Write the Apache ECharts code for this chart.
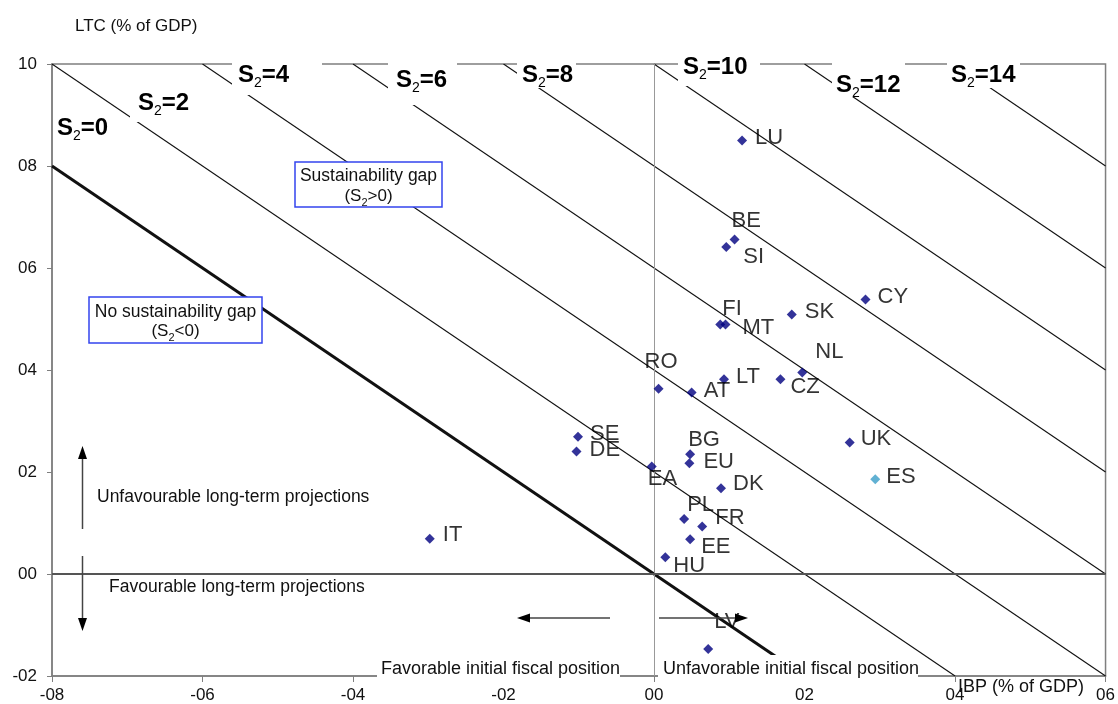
<!DOCTYPE html>
<html>
<head>
<meta charset="utf-8">
<script src="https://cdn.jsdelivr.net/npm/echarts@6/dist/echarts.min.js"></script>
<style>
html, body { margin: 0; padding: 0; background: #fff; }
#container { width: 1118px; height: 704px; }
</style>
</head>
<body>
<div id="container"></div>
<script>
// country data: IBP (x) and LTC (y), % of GDP
var countries = ['LU','BE','SI','CY','SK','FI','MT','NL','LT','CZ','RO','AT','SE','DE','BG','EU','EA','UK','ES','DK','PL','FR','EE','HU','IT','LV'];
var ibp = [1.17, 1.07, 0.96, 2.81, 1.83, 0.88, 0.95, 1.97, 0.93, 1.68, 0.06, 0.50, -1.01, -1.03, 0.48, 0.47, -0.03, 2.60, 2.94, 0.89, 0.40, 0.64, 0.48, 0.15, -2.98, 0.72];
var ltc = [8.50, 6.56, 6.41, 5.38, 5.09, 4.89, 4.89, 3.95, 3.82, 3.82, 3.63, 3.56, 2.69, 2.40, 2.35, 2.17, 2.11, 2.58, 1.86, 1.68, 1.08, 0.93, 0.68, 0.33, 0.69, -1.47];

// iso-S2 lines (x + y = S2), end points inside the plot box
var s2Levels = [0, 2, 4, 6, 8, 10, 12, 14];
var s2Lines = [
    [[-8, 8], [2, -2]],
    [[-8, 10], [4, -2]],
    [[-6, 10], [6, -2]],
    [[-4, 10], [6, 0]],
    [[-2, 10], [6, 2]],
    [[0, 10], [6, 4]],
    [[2, 10], [6, 6]],
    [[4, 10], [6, 8]]
];

var xTickLabels = ['-08', '-06', '-04', '-02', '00', '02', '04', '06'];
var yTickLabels = ['-02', '00', '02', '04', '06', '08', '10'];

var FONT = '"Liberation Sans", Arial, sans-serif';

// label placement per country (text start / centre relative to the marker)
var labelOffset = {
    LU: [13, -3], BE: [-3, -19], SI: [17, 10], CY: [12, -3], SK: [13, -2],
    FI: [2, -16], MT: [17, 3], NL: [13, -21], LT: [12, -2], CZ: [10, 8],
    RO: [-14, -27], AT: [12, -2], SE: [12, -3], DE: [13, -2], BG: [-2, -14],
    EU: [14, -1], EA: [-4, 13], UK: [11, -3], ES: [11, -2], DK: [12, -4],
    PL: [3, -14], FR: [13, -9], EE: [11, 8], HU: [8, 9], IT: [13, -4], LV: [6, -27]
};

var symSize = 10;
var points = countries.map(function (c, i) {
    var off = labelOffset[c];
    var item = {
        name: c,
        value: [ibp[i], ltc[i]],
        label: { position: [symSize / 2 + off[0], symSize / 2 + off[1]] }
    };
    if (c === 'ES') item.itemStyle = { color: '#3a9dc8' };
    return item;
});

var lineSeries = s2Lines.map(function (seg, i) {
    return {
        name: 'S2=' + s2Levels[i],
        type: 'line',
        data: seg,
        symbol: 'none',
        silent: true,
        z: 3,
        lineStyle: { color: '#111', width: s2Levels[i] === 0 ? 3 : 1.1 }
    };
});

var myChart = echarts.init(document.getElementById('container'));

// S2 labels, white box behind each one cuts the lines like in the original
function s2Label(level, x, y) {
    return {
        type: 'text', z: 60, x: x, y: y,
        style: {
            text: '{b|S}{s|2}{b|=' + level + '}',
            verticalAlign: 'top',
            rich: {
                b: { fontFamily: FONT, fontSize: 24, fontWeight: 'bold', lineHeight: 22, verticalAlign: 'top', fill: '#000' },
                s: { fontFamily: FONT, fontSize: 14, padding: [13, 0, 0, 0], verticalAlign: 'top', fill: '#000' }
            }
        }
    };
}
function mask(x, y, w, h) {
    return { type: 'rect', z: 50, shape: { x: x, y: y, width: w, height: h }, style: { fill: '#fff' } };
}
function plainText(t, x, y, size, align) {
    return {
        type: 'text', z: 60, x: x, y: y,
        style: { text: t, font: size + 'px ' + FONT, fill: '#111', align: align || 'left', verticalAlign: 'middle' }
    };
}
function subText(pre, post, x, y) {
    return {
        type: 'text', z: 60, x: x, y: y,
        style: {
            text: '{n|' + pre + '}{s|2}{n|' + post + '}',
            align: 'center', verticalAlign: 'middle',
            rich: {
                n: { fontFamily: FONT, fontSize: 17, lineHeight: 18, verticalAlign: 'top', fill: '#111' },
                s: { fontFamily: FONT, fontSize: 11, padding: [9, 0, 0, 0], verticalAlign: 'top', fill: '#111' }
            }
        }
    };
}
function arrow(x1, y1, x2, y2, head) {
    return [
        { type: 'line', z: 60, shape: { x1: x1, y1: y1, x2: x2, y2: y2 }, style: { stroke: '#444', lineWidth: 1.5 } },
        { type: 'polygon', z: 61, shape: { points: head }, style: { fill: '#000' } }
    ];
}

var graphics = [
    // masks behind S2 labels
    mask(130, 84, 70, 38),
    mask(232, 55, 90, 40),
    mask(388, 55, 69, 50),
    mask(517, 55, 59, 33),
    mask(678, 50, 82, 36),
    mask(832, 55, 73, 42),
    mask(947, 55, 73, 33),
    s2Label(0, 57, 116),
    s2Label(2, 138, 91),
    s2Label(4, 238, 63),
    s2Label(6, 396, 68),
    s2Label(8, 522, 63),
    s2Label(10, 683, 55),
    s2Label(12, 836, 73),
    s2Label(14, 951, 63),
    // explanatory boxes
    { type: 'rect', z: 55, shape: { x: 295, y: 162, width: 147, height: 45 }, style: { fill: '#fff', stroke: '#3344ee', lineWidth: 1.5 } },
    plainText('Sustainability gap', 368.5, 176, 17.5, 'center'),
    subText('(S', '>0)', 368.5, 198),
    { type: 'rect', z: 55, shape: { x: 89, y: 297, width: 173, height: 46 }, style: { fill: '#fff', stroke: '#3344ee', lineWidth: 1.5 } },
    plainText('No sustainability gap', 175.5, 312, 17.5, 'center'),
    subText('(S', '<0)', 175.5, 333),
    // long-term projection notes
    plainText('Unfavourable long-term projections', 97, 497, 17.5),
    plainText('Favourable long-term projections', 109, 587, 17.5),
    // fiscal position notes over the x axis
    mask(377, 657, 243, 25),
    mask(658, 655, 260, 27),
    plainText('Favorable initial fiscal position', 381, 669, 18),
    plainText('Unfavorable initial fiscal position', 663, 669, 18),
    // axis titles
    plainText('LTC (% of GDP)', 75, 26, 17),
    plainText('IBP (% of GDP)', 958, 687, 18)
];
graphics = graphics
    .concat(arrow(82.5, 529, 82.5, 456, [[82.5, 446], [78, 459], [87, 459]]))
    .concat(arrow(82.5, 556, 82.5, 620, [[82.5, 631], [78, 618], [87, 618]]))
    .concat(arrow(610, 618, 528, 618, [[517, 618], [530, 613.5], [530, 622.5]]))
    .concat(arrow(659, 618, 737, 618, [[748, 618], [735, 613.5], [735, 622.5]]));

var option = {
    animation: false,
    backgroundColor: '#fff',
    grid: {
        left: 52, right: 11, top: 64, bottom: 27,
        show: true, borderColor: '#7f7f7f', borderWidth: 1.5
    },
    xAxis: {
        type: 'value', min: -8, max: 6, interval: 2,
        splitLine: { show: false },
        axisLine: { onZero: false, lineStyle: { color: '#7f7f7f', width: 1.5 } },
        axisTick: { length: 6, lineStyle: { color: '#7f7f7f' } },
        axisLabel: {
            margin: 11, color: '#111', fontFamily: FONT, fontSize: 17,
            formatter: function (v) { return xTickLabels[Math.round((v + 8) / 2)]; }
        }
    },
    yAxis: {
        type: 'value', min: -2, max: 10, interval: 2,
        splitLine: { show: false },
        axisLine: { onZero: false, lineStyle: { color: '#7f7f7f', width: 1.5 } },
        axisTick: { length: 5, lineStyle: { color: '#7f7f7f' } },
        axisLabel: {
            margin: 15, color: '#111', fontFamily: FONT, fontSize: 17,
            formatter: function (v) { return yTickLabels[Math.round((v + 2) / 2)]; }
        }
    },
    series: lineSeries.concat([{
        name: 'countries',
        type: 'scatter',
        symbol: 'diamond',
        symbolSize: symSize,
        z: 5,
        itemStyle: { color: '#000080' },
        label: {
            show: true,
            formatter: '{b}',
            align: 'left',
            verticalAlign: 'middle',
            color: '#000',
            fontFamily: FONT,
            fontSize: 22
        },
        labelLayout: { hideOverlap: false },
        markLine: {
            silent: true,
            symbol: 'none',
            label: { show: false },
            data: [
                { xAxis: 0, lineStyle: { color: '#999', width: 1, type: 'solid' } },
                { yAxis: 0, lineStyle: { color: '#555', width: 1.8, type: 'solid' } }
            ]
        },
        data: points
    }]),
    graphic: graphics
};

myChart.setOption(option);
</script>
</body>
</html>
